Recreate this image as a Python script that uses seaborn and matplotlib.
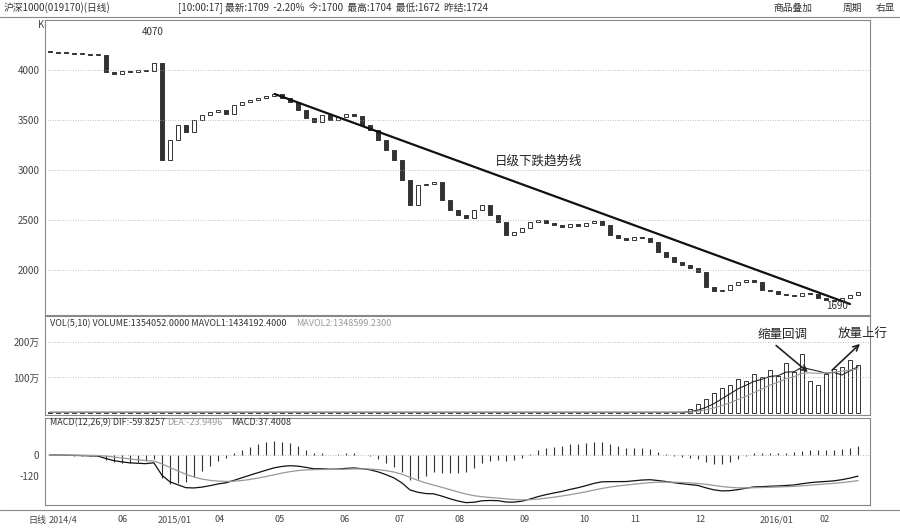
import numpy as np
import pandas as pd
import seaborn as sns
import matplotlib.pyplot as plt

# closing prices, one candle per period
closes = [4180, 4175, 4170, 4160, 4160, 4150, 4150, 3980, 3960, 3990,
          3980, 4000, 3990, 4070, 3100, 3300, 3450, 3380, 3500, 3550,
          3580, 3600, 3560, 3650, 3680, 3700, 3720, 3740, 3760, 3720,
          3680, 3600, 3520, 3480, 3550, 3500, 3530, 3560, 3540, 3450,
          3400, 3300, 3200, 3100, 2900, 2650, 2850, 2860, 2880, 2700,
          2600, 2550, 2520, 2600, 2650, 2550, 2480, 2350, 2380, 2420,
          2480, 2500, 2470, 2450, 2430, 2460, 2440, 2470, 2490, 2450,
          2350, 2320, 2300, 2330, 2320, 2280, 2180, 2130, 2080, 2050,
          2020, 1980, 1830, 1790, 1800, 1850, 1880, 1900, 1880, 1800,
          1790, 1760, 1750, 1740, 1770, 1760, 1720, 1700, 1690, 1720,
          1750, 1780]
opens = [4190] + closes[:-1]
# volume in 万
volumes = [2] * 80 + [10, 25, 40, 55, 70, 80, 95, 90, 110, 100,
                      120, 105, 140, 115, 165, 90, 80, 110, 125, 130,
                      150, 135]

x_ticks = [-0.1, 8.4, 13.5, 20.6, 28.1, 36.2, 43.1, 50.6, 58.7, 66.2,
           72.5, 80.6, 88.7, 96.2]
x_labels = ["2014/4", "06", "2015/01", "04", "05", "06", "07", "08", "09",
            "10", "11", "12", "2016/01", "02"]

sns.set_style("white")
plt.rcParams['font.family'] = ['Noto Sans CJK SC', 'DejaVu Sans']

W, H = 900, 531
fig = plt.figure(figsize=(9, 5.31), dpi=100)


def rect(x0, y0, x1, y1):
    return [x0 / W, 1 - y1 / H, (x1 - x0) / W, (y1 - y0) / H]


n = len(closes)
idx = np.arange(n)
xlim = (-0.6, 102.5)
ink = "#333333"

ax = fig.add_axes(rect(45, 20, 870, 315))
axv = fig.add_axes(rect(45, 316, 870, 415))
axm = fig.add_axes(rect(45, 418, 870, 505))
for a in (ax, axv, axm):
    a.set_xlim(*xlim)
    for s in a.spines.values():
        s.set_color("#888888")
        s.set_linewidth(0.8)
    a.set_xticks([])
    a.tick_params(axis="y", labelsize=7, colors="#444444", length=0, pad=4)

# candles
ax.set_ylim(1550, 4500)
for i in range(n):
    o, c = opens[i], closes[i]
    lo, hi = min(o, c), max(o, c)
    up = c >= o
    ax.bar(i, max(hi - lo, 8), bottom=lo, width=0.5,
           color="white" if up else ink, edgecolor=ink, linewidth=0.7)
ax.set_yticks([2000, 2500, 3000, 3500, 4000])
ax.set_yticklabels(["2000", "2500", "3000", "3500", "4000"])
for v in [2000, 2500, 3000, 3500, 4000]:
    ax.axhline(v, color="#aaaaaa", lw=0.6, ls=(0, (1, 2)))
ax.text(-1.5, 4420, "K", fontsize=7, color="#444444")
ax.text(11.5, 4380, "4070", fontsize=7, color="#333333", va="center")
ax.text(97, 1640, "1690", fontsize=7, color="#333333", va="center")

# trend line from the high to the low
ax.plot([28.1, 100], [3760, 1660], color="#111111", lw=1.6)
ax.text(55.6, 3050, "日级下跌趋势线", fontsize=9, color="#222222")

# volume
axv.set_ylim(-5.6, 273)
axv.bar(idx, volumes, width=0.5, color="white", edgecolor=ink, linewidth=0.7)
ma5 = pd.Series(volumes).rolling(5, min_periods=1).mean()
ma10 = pd.Series(volumes).rolling(10, min_periods=1).mean()
sns.lineplot(x=idx, y=ma5, ax=axv, color="#222222", lw=0.8)
sns.lineplot(x=idx, y=ma10, ax=axv, color="#999999", lw=0.8)
axv.set_yticks([100, 200])
axv.set_yticklabels(["100万", "200万"])
for v in [100, 200]:
    axv.axhline(v, color="#aaaaaa", lw=0.6, ls=(0, (1, 2)))
axv.set_ylabel("")
axv.text(0, 252, "VOL(5,10) VOLUME:1354052.0000 MAVOL1:1434192.4000",
         fontsize=6.5, color="#333333", va="center")
axv.text(30.8, 252, "MAVOL2:1348599.2300", fontsize=6.5, color="#999999",
         va="center")
axv.text(88.5, 210, "缩量回调", fontsize=9, color="#222222")
axv.text(98.5, 215, "放量上行", fontsize=9, color="#222222")
axv.annotate("", xy=(95, 110), xytext=(90.5, 195),
             arrowprops=dict(arrowstyle="->", color="#222222", lw=1.2))
axv.annotate("", xy=(101.5, 200), xytext=(97.5, 115),
             arrowprops=dict(arrowstyle="->", color="#222222", lw=1.2))

# MACD
cs = pd.Series(closes, dtype=float)
dif = cs.ewm(span=12, adjust=False).mean() - cs.ewm(span=26, adjust=False).mean()
dea = dif.ewm(span=9, adjust=False).mean()
hist = 2 * (dif - dea)
lo = min(dif.min(), hist.min()) * 1.05
axm.set_ylim(lo, -lo * 37 / 50)
axm.vlines(idx, 0, hist, color=ink, lw=0.8)
sns.lineplot(x=idx, y=dif, ax=axm, color="#111111", lw=0.9)
sns.lineplot(x=idx, y=dea, ax=axm, color="#999999", lw=0.9)
axm.axhline(0, color="#aaaaaa", lw=0.6, ls=(0, (1, 2)))
axm.set_yticks([lo * 37 / 87, 0])
axm.set_yticklabels(["-120", "0"])
axm.set_ylabel("")
top = axm.get_ylim()[1]
axm.text(0, top * 0.88, "MACD(12,26,9) DIF:-59.8257", fontsize=6.5,
         color="#333333", va="center")
axm.text(14.6, top * 0.88, "DEA:-23.9496", fontsize=6.5, color="#999999",
         va="center")
axm.text(22.6, top * 0.88, "MACD:37.4008", fontsize=6.5, color="#333333",
         va="center")

# date axis
for xt, lab in zip(x_ticks, x_labels):
    fig.text((45 + (xt - xlim[0]) * 825 / (xlim[1] - xlim[0])) / W, 1 - 520 / H,
             lab, fontsize=6.5, color="#444444", va="center")
fig.text(28 / W, 1 - 520 / H, "日线", fontsize=6.5, color="#444444", va="center")

# header
fig.text(4 / W, 1 - 8 / H, "沪深1000(019170)(日线)", fontsize=7, color="#333333",
         va="center")
fig.text(178 / W, 1 - 8 / H,
         "[10:00:17] 最新:1709  -2.20%  今:1700  最高:1704  最低:1672  昨结:1724",
         fontsize=7, color="#333333", va="center")
fig.text(773 / W, 1 - 8 / H, "商品叠加", fontsize=7, color="#333333", va="center")
fig.text(843 / W, 1 - 8 / H, "周期", fontsize=7, color="#333333", va="center")
fig.text(876 / W, 1 - 8 / H, "右显", fontsize=7, color="#333333", va="center")
fig.add_artist(plt.Line2D([0, 1], [1 - 17 / H, 1 - 17 / H], color="#888888", lw=0.8))
fig.add_artist(plt.Line2D([0, 1], [1 - 510 / H, 1 - 510 / H], color="#888888", lw=0.8))

fig.savefig("out.png", dpi=100)
